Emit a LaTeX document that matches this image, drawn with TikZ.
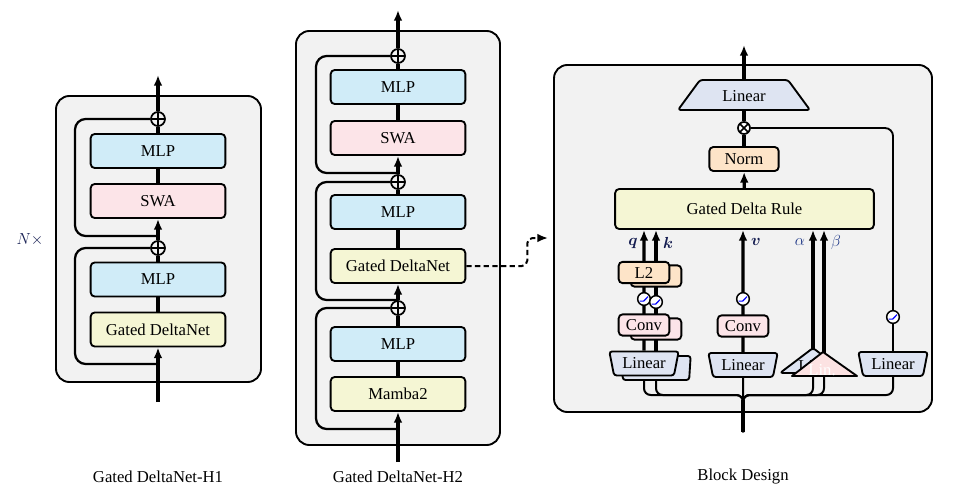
\documentclass[tikz,border=0pt]{standalone}
\usepackage{fontspec}
\setmainfont{Liberation Serif}
\usepackage{bm}
\usetikzlibrary{arrows.meta,shapes.geometric}

\definecolor{panelgray}{RGB}{242,242,242}
\definecolor{mlpblue}{RGB}{208,236,248}
\definecolor{swapink}{RGB}{252,228,232}
\definecolor{gdnyellow}{RGB}{245,246,212}
\definecolor{normorange}{RGB}{253,228,200}
\definecolor{linlav}{RGB}{222,228,242}
\definecolor{tripink}{RGB}{252,226,226}
\definecolor{labnavy}{RGB}{20,28,80}
\definecolor{labblue}{RGB}{30,55,135}

\pgfdeclarelayer{panels}
\pgfdeclarelayer{wires}
\pgfsetlayers{panels,wires,main}

\begin{document}
\begin{tikzpicture}[
    x=0.75pt, y=-0.75pt,
    font=\fontsize{12.5}{15}\selectfont,
    panel/.style = {draw, line width=1.4pt, rounded corners=10pt, fill=panelgray},
    blk/.style = {draw, line width=1.4pt, rounded corners=3pt,
      minimum width=101pt, minimum height=25.5pt, inner sep=2pt},
    opbox/.style = {draw, line width=1.4pt, rounded corners=3pt,
      minimum width=38pt, minimum height=16pt, inner sep=1pt},
    linshape/.style = {draw, line width=1.4pt, fill=linlav, rounded corners=2pt, line join=round},
    lindown/.style = {draw, line width=1.4pt, fill=linlav, trapezium,
      trapezium stretches body, trapezium left angle=74, trapezium right angle=74,
      shape border rotate=180, minimum width=52pt, minimum height=18pt,
      inner sep=2pt, rounded corners=2pt},
    addop/.style = {circle, draw, line width=1.3pt, minimum size=10.5pt, inner sep=0pt,
      path picture={\draw[line width=1.3pt]
        (path picture bounding box.north) -- (path picture bounding box.south)
        (path picture bounding box.west) -- (path picture bounding box.east);}},
    mulop/.style = {circle, draw, line width=1.3pt, fill=white, minimum size=9pt, inner sep=0pt,
      path picture={\draw[line width=1.3pt]
        (path picture bounding box.north west) -- (path picture bounding box.south east)
        (path picture bounding box.south west) -- (path picture bounding box.north east);}},
    actfn/.style = {circle, draw, line width=1.1pt, fill=white, minimum size=9.5pt, inner sep=0pt,
      path picture={\draw[blue, line width=0.9pt]
        ([xshift=-3.2pt,yshift=-1.6pt]path picture bounding box.center) --
        ([xshift=-0.3pt,yshift=-1.6pt]path picture bounding box.center) --
        ([xshift=3pt,yshift=1.8pt]path picture bounding box.center);}},
    mainline/.style = {line width=2.5pt},
    skipline/.style = {line width=1.7pt, rounded corners=8pt},
    busline/.style = {line width=1.5pt, rounded corners=5pt},
    arr/.style = {-{Latex[length=8pt,width=6.5pt]}},
  ]

  \useasboundingbox (0,0) rectangle (965,500);

  \begin{pgfonlayer}{panels}
    \draw[panel] (56,96) rectangle (261,382);
    \draw[panel] (296,31) rectangle (500,445);
    \draw[panel] (554,65) rectangle (932,412);
  \end{pgfonlayer}

  % Gated DeltaNet-H1
  \node[blk, fill=gdnyellow] (gdnA) at (158,329.5) {Gated DeltaNet};
  \node[blk, fill=mlpblue] (mlpB) at (158,279.5) {MLP};
  \node[addop] (addB) at (158,248) {};
  \node[blk, fill=swapink] (swaA) at (158,201) {SWA};
  \node[blk, fill=mlpblue] (mlpA) at (158,151) {MLP};
  \node[addop] (addA) at (158,119) {};
  \coordinate (inA) at (158,402);
  \coordinate (outA) at (158,75);
  \coordinate (tapA) at (158,364);
  \coordinate (tapB) at (158,236);
  \node[text=labnavy] (rep) at (30,240) {$N\times$};
  \node (capA) at (158,477) {Gated DeltaNet-H1};

  % Gated DeltaNet-H2
  \node[blk, fill=gdnyellow] (mamba) at (398,394) {Mamba2};
  \node[blk, fill=mlpblue] (mlpE) at (398,344) {MLP};
  \node[addop] (addE) at (398,308) {};
  \node[blk, fill=gdnyellow] (gdnB) at (398,266) {Gated DeltaNet};
  \node[blk, fill=mlpblue] (mlpD) at (398,212) {MLP};
  \node[addop] (addD) at (398,182) {};
  \node[blk, fill=swapink] (swaB) at (398,138) {SWA};
  \node[blk, fill=mlpblue] (mlpC) at (398,87) {MLP};
  \node[addop] (addC) at (398,56) {};
  \coordinate (inB) at (398,462);
  \coordinate (outB) at (398,10);
  \coordinate (tapC) at (398,429);
  \coordinate (tapD) at (398,300);
  \coordinate (tapE) at (398,173);
  \coordinate (dashEnd) at (548,238);
  \node (capB) at (398,477) {Gated DeltaNet-H2};

  % Block Design
  \filldraw[linshape] (678,110) -- (700,80) -- (788,80) -- (810,110) -- cycle;
  \node (linOut) at (744,96) {Linear};
  \node[mulop] (mul) at (744,128) {};
  \node[opbox, fill=normorange, minimum width=52pt, minimum height=18pt] (norm) at (744,159) {Norm};
  \node[draw, line width=1.4pt, rounded corners=3pt, fill=gdnyellow,
    minimum width=194pt, minimum height=30pt] (gdr) at (744.5,209) {Gated Delta Rule};
  \coordinate (outC) at (744,45);

  \node[lindown] (linK) at (656,368) {};
  \node[opbox, fill=swapink] (convK) at (656,329) {};
  \node[opbox, fill=normorange] (l2K) at (656,276) {};
  \node[lindown] (linQ) at (644,363.5) {Linear};
  \node[opbox, fill=swapink] (convQ) at (644,325) {Conv};
  \node[opbox, fill=normorange] (l2Q) at (644,272.5) {L2};
  \node[actfn] (actQ) at (644,299) {};
  \node[actfn] (actK) at (656,302) {};

  \node[lindown] (linV) at (743,365) {Linear};
  \node[opbox, fill=swapink] (convV) at (743,326) {Conv};
  \node[actfn] (actV) at (743,299) {};

  \node[lindown] (linG) at (893,364) {Linear};
  \node[actfn] (actG) at (893,317) {};

  \coordinate (alphaBase) at (813,373);
  \coordinate (betaBase) at (824,376);
  \coordinate (inC) at (743,432);
  \coordinate (busC) at (743,395);

  \node[text=labnavy] (labQ) at (633,243) {$\bm{q}$};
  \node[text=labnavy] (labK) at (668,243) {$\bm{k}$};
  \node[text=labnavy] (labV) at (756,242) {$\bm{v}$};
  \node[text=labblue] (labA) at (800,242) {$\alpha$};
  \node[text=labblue] (labB) at (836,242) {$\beta$};
  \node (capC) at (743,477) {Block Design};

  \begin{pgfonlayer}{wires}
    \draw[mainline, arr] (inA) -- (gdnA);
    \draw[mainline] (gdnA) -- (mlpB) -- (addB);
    \draw[mainline, arr] (addB) -- (swaA);
    \draw[mainline] (swaA) -- (mlpA) -- (addA);
    \draw[mainline, arr] (addA) -- (outA);
    \draw[skipline] (tapA) -| (75,248) -- (addB);
    \draw[skipline] (tapB) -| (75,119) -- (addA);

    \draw[mainline, arr] (inB) -- (mamba);
    \draw[mainline] (mamba) -- (mlpE) -- (addE);
    \draw[mainline, arr] (addE) -- (gdnB);
    \draw[mainline] (gdnB) -- (mlpD) -- (addD);
    \draw[mainline, arr] (addD) -- (swaB);
    \draw[mainline] (swaB) -- (mlpC) -- (addC);
    \draw[mainline, arr] (addC) -- (outB);
    \draw[skipline] (tapC) -| (316,308) -- (addE);
    \draw[skipline] (tapD) -| (316,182) -- (addD);
    \draw[skipline] (tapE) -| (316,56) -- (addC);
    \draw[line width=1.5pt, dash pattern=on 4pt off 2.5pt, rounded corners=4pt, arr]
      (gdnB.east) -- ++(61,0) |- (dashEnd);

    \draw[mainline, arr] (gdr) -- (norm);
    \draw[mainline] (norm) -- (mul) -- (linOut);
    \draw[mainline, arr] (linOut) -- (outC);
    \draw[line width=1.4pt, rounded corners=6pt] (mul) -| (actG);
    \draw[line width=1.4pt] (actG) -- (linG);

    \draw[mainline, arr] (linK) -- (linK |- gdr.south);
    \draw[mainline, arr] (linQ) -- (linQ |- gdr.south);
    \draw[mainline, arr] (linV) -- (linV |- gdr.south);
    \draw[mainline, arr] (alphaBase) -- (alphaBase |- gdr.south);
    \draw[mainline, arr] (betaBase) -- (betaBase |- gdr.south);

    \draw[busline] (inC) -- (busC) -| (linQ);
    \draw[busline] (inC) -- (busC) -| (linK);
    \draw[busline] (inC) -- (linV);
    \draw[busline] (inC) -- (busC) -| (alphaBase);
    \draw[busline] (inC) -- (busC) -| (betaBase);
    \draw[busline] (inC) -- (busC) -| (linG);
    \draw[mainline] (inC) -- ++(0,-32);
  \end{pgfonlayer}

  \filldraw[linshape] (780,373) -- (813,348) -- (846,373) -- cycle;
  \node (linAB) at (812,366) {Lin.};
  \filldraw[line width=1.4pt, fill=tripink, line join=round] (792,376) -- (823,352) -- (857,376) -- cycle;
  \node[text=white] (linAF) at (822,370) {Lin.};

\end{tikzpicture}
\end{document}
